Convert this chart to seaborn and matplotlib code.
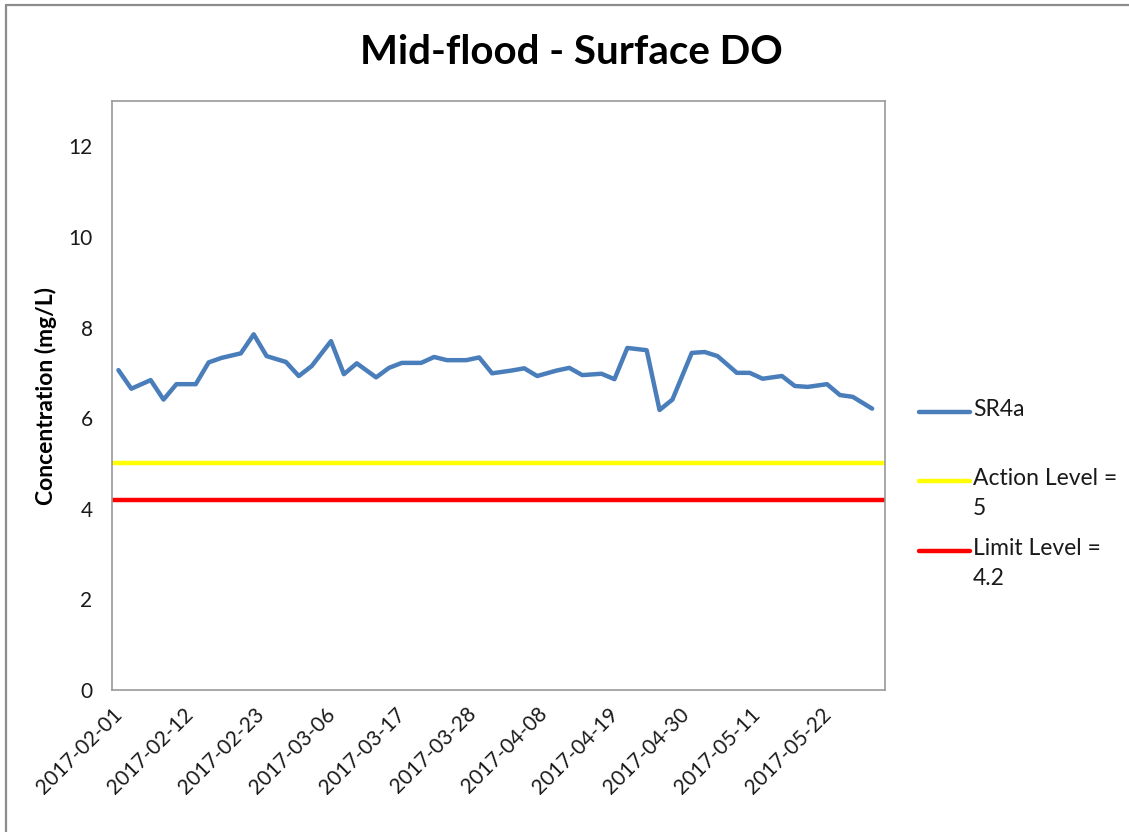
import matplotlib
matplotlib.use("Agg")
import matplotlib.pyplot as plt
import matplotlib.dates as mdates
from matplotlib.lines import Line2D
import pandas as pd
import seaborn as sns

# Sampling dates (Tue / Thu / Sat survey days)
dates = [
    "2017-02-02", "2017-02-04", "2017-02-07", "2017-02-09", "2017-02-11",
    "2017-02-14", "2017-02-16", "2017-02-18", "2017-02-21", "2017-02-23",
    "2017-02-25", "2017-02-28", "2017-03-02", "2017-03-04", "2017-03-07",
    "2017-03-09", "2017-03-11", "2017-03-14", "2017-03-16", "2017-03-18",
    "2017-03-21", "2017-03-23", "2017-03-25", "2017-03-28", "2017-03-30",
    "2017-04-01", "2017-04-04", "2017-04-06", "2017-04-08", "2017-04-11",
    "2017-04-13", "2017-04-15", "2017-04-18", "2017-04-20", "2017-04-22",
    "2017-04-25", "2017-04-27", "2017-04-29", "2017-05-02", "2017-05-04",
    "2017-05-06", "2017-05-09", "2017-05-11", "2017-05-13", "2017-05-16",
    "2017-05-18", "2017-05-20", "2017-05-23", "2017-05-25", "2017-05-27",
    "2017-05-30",
]

# Surface dissolved oxygen at SR4a (mg/L)
sr4a = [
    7.06, 6.65, 6.84, 6.41, 6.75,
    6.75, 7.23, 7.33, 7.43, 7.85,
    7.37, 7.24, 6.93, 7.15, 7.70,
    6.97, 7.21, 6.90, 7.11, 7.22,
    7.22, 7.35, 7.28, 7.28, 7.34,
    6.99, 7.05, 7.10, 6.93, 7.05,
    7.11, 6.95, 6.98, 6.86, 7.55,
    7.50, 6.18, 6.41, 7.44, 7.46,
    7.37, 7.00, 7.00, 6.87, 6.93,
    6.71, 6.69, 6.75, 6.51, 6.47,
    6.21,
]

action_level = 5.0
limit_level = 4.2

tick_dates = [
    "2017-02-01", "2017-02-12", "2017-02-23", "2017-03-06", "2017-03-17",
    "2017-03-28", "2017-04-08", "2017-04-19", "2017-04-30", "2017-05-11",
    "2017-05-22",
]
y_ticks = [0, 2, 4, 6, 8, 10, 12]

df = pd.DataFrame({"date": pd.to_datetime(dates), "SR4a": sr4a})

sns.set_theme(style="white")
plt.rcParams["font.family"] = ["Lato", "DejaVu Sans"]

W, H = 1129, 832
fig = plt.figure(figsize=(W / 100, H / 100), dpi=100)
ax = fig.add_axes([112 / W, 1 - 690 / H, (885 - 112) / W, (690 - 101) / H])

blue = "#4A7EBB"
yellow = "#FFFF00"
red = "#FF0000"
grey = "#9A9A9A"
text_col = "#1a1a1a"
lw = 3.2

sns.lineplot(data=df, x="date", y="SR4a", ax=ax, color=blue, linewidth=lw,
             legend=False)
ax.axhline(action_level, color=yellow, linewidth=lw)
ax.axhline(limit_level, color=red, linewidth=lw)

ax.set_xlim(pd.Timestamp("2017-02-01"), pd.Timestamp("2017-06-01"))
ax.set_ylim(0, 13)
ax.set_yticks(y_ticks)
ax.set_xticks(pd.to_datetime(tick_dates))
ax.xaxis.set_major_formatter(mdates.DateFormatter("%Y-%m-%d"))

for s in ax.spines.values():
    s.set_visible(True)
    s.set_color(grey)
    s.set_linewidth(1.2)

ax.tick_params(axis="both", which="major", direction="out", length=6,
               width=1.0, color=grey, labelsize=15, labelcolor=text_col,
               pad=4)
ax.tick_params(axis="y", pad=8)
plt.setp(ax.get_xticklabels(), rotation=45, ha="right",
         rotation_mode="anchor")

ax.set_xlabel("")
ax.set_ylabel("Concentration (mg/L)", fontsize=16.5, fontweight="bold",
              color="#000000", labelpad=8)

fig.text(571 / W, 1 - 52 / H, "Mid-flood - Surface DO", ha="center",
         va="center", fontsize=29, fontweight="bold", color="#000000")

# Legend entries on the right of the plot area; the swatch sits level
# with the first line of each label
legend_items = [
    ("SR4a", blue, 412),
    (f"Action Level =\n{action_level:g}", yellow, 481),
    (f"Limit Level =\n{limit_level:g}", red, 551),
]
for label, colour, ypix in legend_items:
    yf = 1 - ypix / H
    fig.add_artist(Line2D([919 / W, 970 / W], [yf, yf],
                          transform=fig.transFigure, color=colour, lw=lw,
                          solid_capstyle="round"))
    fig.text(973 / W, 1 - (ypix - 13) / H, label, ha="left", va="top",
             fontsize=16.5, color=text_col, linespacing=1.55)

# Chart-area frame on the left and top edges
fig.add_artist(Line2D([6 / W, 6 / W], [0, 1 - 5 / H],
                      transform=fig.transFigure, color="#8C8C8C", lw=1.6))
fig.add_artist(Line2D([6 / W, 1], [1 - 5 / H, 1 - 5 / H],
                      transform=fig.transFigure, color="#8C8C8C", lw=1.6))

fig.savefig("out.png", dpi=100, facecolor="white")
